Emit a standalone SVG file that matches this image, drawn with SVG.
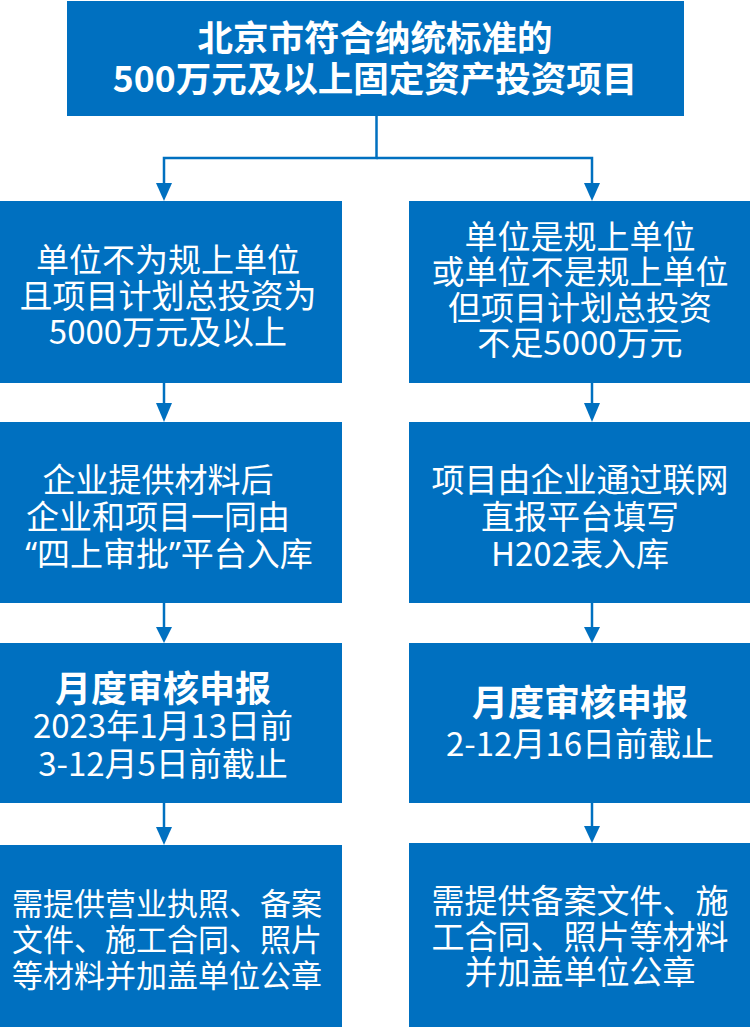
<svg xmlns="http://www.w3.org/2000/svg" width="750" height="1027" viewBox="0 0 750 1027">
<style>
.box{fill:#0070C0;}
.t{font-family:"Noto Sans CJK SC","Noto Sans",sans-serif;fill:#FFFFFF;font-size:33px;text-anchor:middle;}
.b{font-weight:bold;}
.ttl{font-size:35.5px;}
.sub{font-size:36px;}
.sm{font-size:31px;}
.q{font-family:"Noto Sans",sans-serif;}
.c{stroke:#0070C0;stroke-width:2.5;fill:none;}
.h{fill:#0070C0;}
</style>
<rect width="750" height="1027" fill="#FFFFFF"/>
<g id="connectors">
<polyline class="c" points="376.5,116 376.5,158 164,158 164,186"/>
<polyline class="c" points="376.5,158 592,158 592,186"/>
<polygon class="h" points="156,183 172,183 164,201"/>
<polygon class="h" points="584,183 600,183 592,201"/>
<line class="c" x1="164" y1="383" x2="164" y2="405"/>
<polygon class="h" points="156,403 172,403 164,422"/>
<line class="c" x1="592" y1="383" x2="592" y2="405"/>
<polygon class="h" points="584,403 600,403 592,422"/>
<line class="c" x1="164" y1="603" x2="164" y2="630"/>
<polygon class="h" points="156,627 172,627 164,643"/>
<line class="c" x1="592" y1="603" x2="592" y2="630"/>
<polygon class="h" points="584,627 600,627 592,643"/>
<line class="c" x1="164" y1="803" x2="164" y2="830"/>
<polygon class="h" points="156,827 172,827 164,845"/>
<line class="c" x1="592" y1="803" x2="592" y2="830"/>
<polygon class="h" points="584,826 600,826 592,843"/>
</g>
<g id="top">
<rect class="box" x="67" y="1" width="617" height="115"/>
<text class="t b ttl" x="375" y="51">北京市符合纳统标准的</text>
<text class="t b ttl" x="375" y="92">500万元及以上固定资产投资项目</text>
</g>
<g id="left1">
<rect class="box" x="0" y="201" width="342" height="182"/>
<text class="t" x="168" y="272">单位不为规上单位</text>
<text class="t" x="168" y="308">且项目计划总投资为</text>
<text class="t" x="168" y="344">5000万元及以上</text>
</g>
<g id="right1">
<rect class="box" x="409" y="201" width="341" height="182"/>
<text class="t" x="580" y="249">单位是规上单位</text>
<text class="t" x="580" y="284">或单位不是规上单位</text>
<text class="t" x="580" y="320">但项目计划总投资</text>
<text class="t" x="580" y="355">不足5000万元</text>
</g>
<g id="left2">
<rect class="box" x="0" y="422" width="342" height="181"/>
<text class="t" x="158" y="492">企业提供材料后</text>
<text class="t" x="158" y="529">企业和项目一同由</text>
<text class="t" x="169" y="566"><tspan class="q">“</tspan>四上审批<tspan class="q">”</tspan>平台入库</text>
</g>
<g id="right2">
<rect class="box" x="409" y="422" width="341" height="181"/>
<text class="t" x="580" y="492">项目由企业通过联网</text>
<text class="t" x="580" y="529">直报平台填写</text>
<text class="t" x="580" y="566">H202表入库</text>
</g>
<g id="left3">
<rect class="box" x="0" y="643" width="342" height="160"/>
<text class="t b sub" x="163" y="702">月度审核申报</text>
<text class="t" x="163" y="738">2023年1月13日前</text>
<text class="t" x="163" y="776">3-12月5日前截止</text>
</g>
<g id="right3">
<rect class="box" x="409" y="643" width="341" height="160"/>
<text class="t b sub" x="580" y="716">月度审核申报</text>
<text class="t" x="580" y="756">2-12月16日前截止</text>
</g>
<g id="left4">
<rect class="box" x="0" y="845" width="342" height="182"/>
<text class="t sm" x="167" y="915">需提供营业执照、备案</text>
<text class="t sm" x="167" y="951">文件、施工合同、照片</text>
<text class="t sm" x="167" y="987">等材料并加盖单位公章</text>
</g>
<g id="right4">
<rect class="box" x="409" y="843" width="341" height="184"/>
<text class="t" x="580" y="913">需提供备案文件、施</text>
<text class="t" x="580" y="949">工合同、照片等材料</text>
<text class="t" x="580" y="984">并加盖单位公章</text>
</g>
</svg>
